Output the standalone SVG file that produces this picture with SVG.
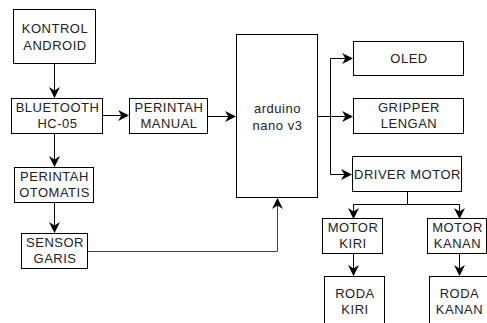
<svg xmlns="http://www.w3.org/2000/svg" width="487" height="323" viewBox="0 0 487 323">
<style>
.b{fill:#fff;stroke:#000;stroke-width:1}
.t{font-family:"Liberation Sans",Arial,sans-serif;font-size:13px;letter-spacing:0.5px;fill:#222;text-anchor:middle}
.c{fill:none;stroke:#000;stroke-width:1}
</style>
<defs>
<marker id="a" viewBox="0 0 10 10" refX="9" refY="5" markerWidth="11" markerHeight="11" markerUnits="userSpaceOnUse" orient="auto">
<path d="M0,0 L10,5 L0,10 L3,5 Z" fill="#000"/>
</marker>
</defs>
<rect width="487" height="323" fill="#fff"/>
<g id="connectors">
<path class="c" d="M54.5,63 V97" marker-end="url(#a)"/>
<path class="c" d="M54.5,133 V166" marker-end="url(#a)"/>
<path class="c" d="M54.5,202 V232" marker-end="url(#a)"/>
<path class="c" d="M102,115.5 H128" marker-end="url(#a)"/>
<path class="c" d="M207,116.5 H235" marker-end="url(#a)"/>
<path class="c" style="stroke:#444" d="M87,251.5 H277.5 V199" marker-end="url(#a)"/>
<path class="c" d="M317,116.5 H352" marker-end="url(#a)"/>
<path class="c" d="M330.5,116.5 V58.5 H352" marker-end="url(#a)"/>
<path class="c" d="M330.5,116.5 V174.5 H351" marker-end="url(#a)"/>
<path class="c" d="M407.5,191 V204.5"/>
<path class="c" d="M353.5,204.5 H459.5"/>
<path class="c" d="M353.5,204.5 V218" marker-end="url(#a)"/>
<path class="c" d="M459.5,204.5 V218" marker-end="url(#a)"/>
<path class="c" d="M353.5,254 V275" marker-end="url(#a)"/>
<path class="c" d="M459.5,254 V275" marker-end="url(#a)"/>
</g>
<g id="kontrol"><rect class="b" x="13.5" y="9.5" width="82" height="54"/><text class="t" x="55" y="33">KONTROL</text><text class="t" x="55" y="50">ANDROID</text></g>
<g id="bluetooth"><rect class="b" x="11.5" y="98.5" width="91" height="35"/><text class="t" x="57.5" y="112">BLUETOOTH</text><text class="t" x="57.5" y="128">HC-05</text></g>
<g id="manual"><rect class="b" x="129.5" y="98.5" width="78" height="35"/><text class="t" x="169" y="112">PERINTAH</text><text class="t" x="169" y="128">MANUAL</text></g>
<g id="otomatis"><rect class="b" x="14.5" y="167.5" width="79" height="35"/><text class="t" x="54.5" y="181">PERINTAH</text><text class="t" x="54.5" y="197">OTOMATIS</text></g>
<g id="sensor"><rect class="b" x="21.5" y="233.5" width="66" height="35"/><text class="t" x="55" y="247">SENSOR</text><text class="t" x="55" y="263">GARIS</text></g>
<g id="arduino"><rect class="b" x="236.5" y="34.5" width="81" height="163"/><text class="t" x="277.5" y="113">arduino</text><text class="t" x="277.5" y="130">nano v3</text></g>
<g id="oled"><rect class="b" x="353.5" y="41.5" width="110" height="34"/><text class="t" x="409" y="63">OLED</text></g>
<g id="gripper"><rect class="b" x="353.5" y="98.5" width="110" height="35"/><text class="t" x="409" y="112">GRIPPER</text><text class="t" x="409" y="128">LENGAN</text></g>
<g id="driver"><rect class="b" x="352.5" y="156.5" width="109" height="35"/><text class="t" x="407.5" y="178.5">DRIVER MOTOR</text></g>
<g id="motorkiri"><rect class="b" x="322.5" y="218.5" width="60" height="35"/><text class="t" x="353" y="232">MOTOR</text><text class="t" x="353" y="248">KIRI</text></g>
<g id="motorkanan"><rect class="b" x="427.5" y="218.5" width="59" height="35"/><text class="t" x="457.5" y="232">MOTOR</text><text class="t" x="457.5" y="248">KANAN</text></g>
<g id="rodakiri"><rect class="b" x="324.5" y="276.5" width="60" height="60"/><text class="t" x="355" y="298">RODA</text><text class="t" x="355" y="314">KIRI</text></g>
<g id="rodakanan"><rect class="b" x="429.5" y="276.5" width="60" height="60"/><text class="t" x="459.5" y="298">RODA</text><text class="t" x="459.5" y="314">KANAN</text></g>
</svg>
